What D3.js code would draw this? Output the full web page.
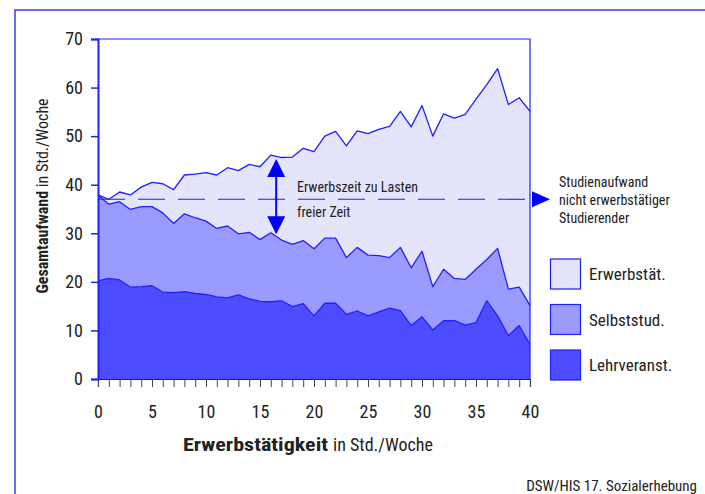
<!DOCTYPE html>
<html>
<head>
<meta charset="utf-8">
<script src="https://cdn.jsdelivr.net/npm/d3@7/dist/d3.min.js"></script>
<style>
  html, body { margin: 0; padding: 0; background: #fff; }
  svg { display: block; }
  text { font-family: "Liberation Sans Narrow", "Roboto Condensed", "DejaVu Sans Condensed", "Liberation Sans", sans-serif; font-stretch: condensed; fill: #222; }
</style>
</head>
<body>
<svg id="chart" width="705" height="494"></svg>
<script>
// Weekly hours of paid work (x categories)
const hours = d3.range(0, 41);

// Hours per week spent on each activity, per level of paid work
const lehrveranst = [20.2, 20.7, 20.4, 18.9, 19.0, 19.2, 17.9, 17.8, 18.0, 17.6,
  17.4, 16.9, 16.7, 17.3, 16.5, 16.0, 15.9, 16.1, 14.9, 15.5,
  13.0, 15.6, 15.6, 13.3, 14.0, 13.0, 13.8, 14.6, 14.1, 11.0,
  12.8, 10.1, 12.0, 12.0, 11.1, 11.6, 16.1, 13.0, 8.9, 11.0, 7.1];
const selbststud = [17.7, 15.3, 16.1, 16.0, 16.5, 16.3, 16.3, 14.2, 16.0, 15.6,
  15.1, 14.1, 14.8, 12.6, 13.7, 12.7, 14.2, 12.5, 12.8, 13.0,
  13.8, 13.4, 13.4, 11.7, 13.1, 12.5, 11.6, 10.4, 13.0, 11.9,
  13.5, 8.9, 10.6, 8.7, 9.4, 11.0, 8.5, 13.9, 9.6, 7.9, 8.0];
const erwerbstaet = [0, 1, 2, 3, 4, 5, 6, 7, 8, 9,
  10, 11, 12, 13, 14, 15, 16, 17, 18, 19,
  20, 21, 22, 23, 24, 25, 26, 27, 28, 29,
  30, 31, 32, 33, 34, 35, 36, 37, 38, 39, 40];

const seriesKeys = ["Lehrveranst.", "Selbststud.", "Erwerbstät."];
const seriesValues = [lehrveranst, selbststud, erwerbstaet];
const seriesColors = ["#4d4dff", "#9a9aff", "#e4e4fa"];
const legendOrder = ["Erwerbstät.", "Selbststud.", "Lehrveranst."];

const yTicks = [0, 10, 20, 30, 40, 50, 60, 70];
const xTickLabels = [0, 5, 10, 15, 20, 25, 30, 35, 40];

// Reference level: study effort of students without a job
const referenceLevel = 37;

const svg = d3.select("#chart");
const margin = { left: 98, right: 175, top: 39, bottom: 115 };
const W = 705, H = 494;

const x = d3.scaleLinear().domain([0, 40]).range([margin.left, W - margin.right]);
const y = d3.scaleLinear().domain([0, 70]).range([H - margin.bottom, margin.top]);

const lineBlue = "#1f1fff";

// outer frame (left and top edges)
svg.append("path")
  .attr("d", `M15,494 V10 H705`)
  .attr("fill", "none").attr("stroke", "#3a3af0").attr("stroke-width", 1.5);

// stacked data
const table = hours.map((h, i) => {
  const row = { h };
  seriesKeys.forEach((k, j) => row[k] = seriesValues[j][i]);
  return row;
});
const stacked = d3.stack().keys(seriesKeys)(table);

const area = d3.area()
  .x(d => x(d.data.h))
  .y0(d => y(d[0]))
  .y1(d => y(d[1]));

svg.append("g").selectAll("path")
  .data(stacked)
  .join("path")
  .attr("d", area)
  .attr("fill", (d, i) => seriesColors[i]);

const topLine = d3.line().x(d => x(d.data.h)).y(d => y(d[1]));
svg.append("g").selectAll("path")
  .data(stacked)
  .join("path")
  .attr("d", topLine)
  .attr("fill", "none")
  .attr("stroke", lineBlue)
  .attr("stroke-width", 1.3)
  .attr("stroke-linejoin", "round");

// plot frame: top and right edges
svg.append("path")
  .attr("d", `M${x(0)},${y(70)} H${x(40)} V${y(0)}`)
  .attr("fill", "none").attr("stroke", lineBlue).attr("stroke-width", 1.2);

// dashed reference line
svg.append("line")
  .attr("x1", x(0)).attr("x2", x(40))
  .attr("y1", y(referenceLevel)).attr("y2", y(referenceLevel))
  .attr("stroke", lineBlue).attr("stroke-width", 1.1)
  .attr("stroke-dasharray", "27,13");

// pointer triangle to the reference note
const ry = y(referenceLevel);
svg.append("path")
  .attr("d", `M${x(40) + 2},${ry - 8} L${x(40) + 20},${ry} L${x(40) + 2},${ry + 8} Z`)
  .attr("fill", "#0000ff");

const note = svg.append("text")
  .attr("x", 559).attr("y", 187)
  .style("font-size", "14px");
["Studienaufwand", "nicht erwerbstätiger", "Studierender"].forEach((t, i) => {
  note.append("tspan").attr("x", 559).attr("dy", i === 0 ? 0 : 18).text(t);
});

// double arrow: paid work taken from free time
const ax = x(16.5);
const aTop = y(45.3), aBot = y(29.8);
svg.append("line")
  .attr("x1", ax).attr("x2", ax)
  .attr("y1", aTop + 14).attr("y2", aBot - 14)
  .attr("stroke", "#0000ff").attr("stroke-width", 2);
svg.append("path")
  .attr("d", `M${ax},${aTop} L${ax + 9},${aTop + 18} L${ax - 9},${aTop + 18} Z`)
  .attr("fill", "#0000ff");
svg.append("path")
  .attr("d", `M${ax},${aBot} L${ax + 9},${aBot - 18} L${ax - 9},${aBot - 18} Z`)
  .attr("fill", "#0000ff");

svg.append("text").attr("x", 297).attr("y", 192)
  .style("font-size", "14px").text("Erwerbszeit zu Lasten");
svg.append("text").attr("x", 297).attr("y", 217)
  .style("font-size", "14px").text("freier Zeit");

// y axis
const yAxis = svg.append("g")
  .attr("transform", `translate(${x(0)},0)`)
  .call(d3.axisLeft(y).tickValues(yTicks).tickSize(7).tickPadding(8));
yAxis.select(".domain").attr("stroke", lineBlue).attr("stroke-width", 2);
yAxis.selectAll(".tick line").attr("stroke", lineBlue).attr("stroke-width", 1.5);
yAxis.selectAll(".tick text").style("font-size", "18px").attr("fill", "#222");

// x axis
const xAxis = svg.append("g")
  .attr("transform", `translate(0,${y(0)})`)
  .call(d3.axisBottom(x).tickValues(hours).tickSize(8).tickPadding(18)
    .tickFormat(d => xTickLabels.includes(d) ? d : ""));
xAxis.select(".domain").attr("stroke", "#222").attr("stroke-width", 1.2);
xAxis.selectAll(".tick line").attr("stroke", "#444").attr("stroke-width", 1);
xAxis.selectAll(".tick text").style("font-size", "18px").attr("fill", "#222");

// axis titles
const xt = svg.append("text")
  .attr("x", 183).attr("y", 451)
  .style("font-size", "18px");
xt.append("tspan").attr("font-weight", "bold")
  .attr("textLength", 145).attr("lengthAdjust", "spacingAndGlyphs")
  .text("Erwerbstätigkeit");
xt.append("tspan").attr("dx", 5).text("in Std./Woche");

const yt = svg.append("text")
  .attr("transform", `translate(48,196) rotate(-90)`)
  .attr("text-anchor", "middle").style("font-size", "16px");
yt.append("tspan").attr("font-weight", "bold").text("Gesamtaufwand");
yt.append("tspan").text(" in Std./Woche");

// legend
const legend = svg.append("g");
legendOrder.forEach((k, i) => {
  const idx = seriesKeys.indexOf(k);
  const top = 259 + i * 45.5;
  legend.append("rect")
    .attr("x", 550.5).attr("y", top)
    .attr("width", 30).attr("height", 30)
    .attr("fill", seriesColors[idx])
    .attr("stroke", lineBlue).attr("stroke-width", 1.2);
  legend.append("text")
    .attr("x", 589).attr("y", top + 21)
    .style("font-size", "17px").text(k);
});

// source
svg.append("text")
  .attr("x", 697).attr("y", 491)
  .attr("text-anchor", "end").style("font-size", "15px")
  .text("DSW/HIS 17. Sozialerhebung");
</script>
</body>
</html>
